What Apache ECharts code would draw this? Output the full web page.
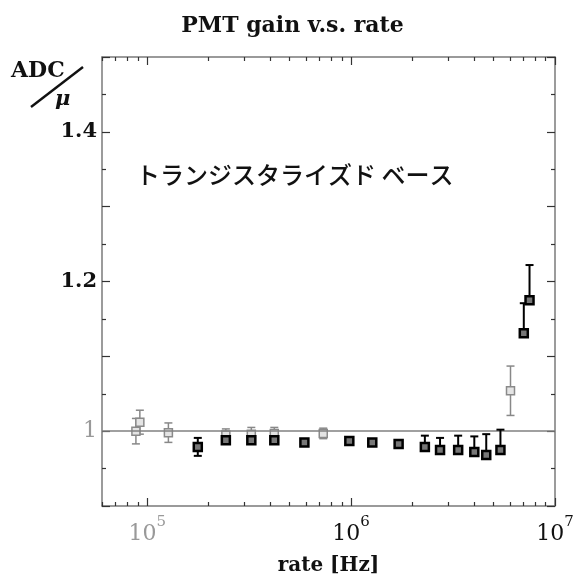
<!DOCTYPE html>
<html>
<head>
<meta charset="utf-8">
<script src="https://cdn.jsdelivr.net/npm/echarts@6/dist/echarts.min.js"></script>
<style>
html, body { margin: 0; background: #fff; }
#chart { width: 585px; height: 582px; }
</style>
</head>
<body>
<div id="chart"></div>
<script>
// open (gray) points
var grayRate = [8.8e4, 9.2e4, 1.27e5, 2.43e5, 3.24e5, 4.2e5, 7.3e5, 6.05e6]
var grayGain = [1.000, 1.012, 0.998, 0.995, 0.996, 0.997, 0.997, 1.054]
var grayErr = [0.017, 0.016, 0.013, 0.008, 0.009, 0.008, 0.007, 0.033]

// filled (black) points
var blackRate = [1.77e5, 2.43e5, 3.24e5, 4.2e5, 5.9e5, 9.8e5, 1.27e6, 1.71e6, 2.3e6, 2.73e6, 3.35e6, 4.02e6, 4.6e6, 5.4e6, 7.03e6, 7.5e6]
var blackGain = [0.979, 0.988, 0.988, 0.988, 0.985, 0.987, 0.985, 0.983, 0.979, 0.975, 0.975, 0.972, 0.968, 0.975, 1.131, 1.175]
var blackErrUp = [0.012, 0.005, 0.004, 0.004, 0.002, 0.002, 0.002, 0.002, 0.015, 0.016, 0.019, 0.021, 0.028, 0.027, 0.040, 0.047]
var blackErrDown = [0.012, 0.005, 0.004, 0.004, 0.002, 0, 0, 0.002, 0, 0, 0, 0, 0, 0, 0, 0]

var xMajor = [1e5, 1e6, 1e7]
var xMinor = [6e4, 7e4, 8e4, 9e4, 2e5, 3e5, 4e5, 5e5, 6e5, 7e5, 8e5, 9e5, 2e6, 3e6, 4e6, 5e6, 6e6, 7e6, 8e6, 9e6]
var yLabels = [1, 1.2, 1.4]

var serif = 'DejaVu Serif'
var frame = '#7a7a7a'

function points (rate, gain) {
  return rate.map(function (r, i) { return [r, gain[i]] })
}

function bars (rate, gain, up, down) {
  return rate.map(function (r, i) {
    return [r, gain[i] - down[i], gain[i] + up[i], gain[i]]
  })
}

function errorBar (color, width) {
  return function (params, api) {
    var x = api.value(0)
    var lo = api.coord([x, api.value(1)])
    var hi = api.coord([x, api.value(2)])
    var style = { stroke: color, lineWidth: width }
    var kids = [{ type: 'line', shape: { x1: lo[0], y1: lo[1], x2: hi[0], y2: hi[1] }, style: style }]
    if (api.value(2) > api.value(3)) {
      kids.push({ type: 'line', shape: { x1: hi[0] - 4, y1: hi[1], x2: hi[0] + 4, y2: hi[1] }, style: style })
    }
    if (api.value(1) < api.value(3)) {
      kids.push({ type: 'line', shape: { x1: lo[0] - 4, y1: lo[1], x2: lo[0] + 4, y2: lo[1] }, style: style })
    }
    return { type: 'group', children: kids }
  }
}

function xAxis (pos, major) {
  return {
    type: 'log',
    logBase: 10,
    min: 6e4,
    max: 1e7,
    position: pos,
    axisLine: { show: major, onZero: false, lineStyle: { color: frame, width: 1.5 } },
    axisTick: {
      show: true,
      inside: true,
      length: major ? 8 : 4,
      customValues: major ? xMajor : xMinor,
      lineStyle: { color: '#333', width: 1.2 }
    },
    axisLabel: {
      show: major && pos === 'bottom',
      customValues: xMajor,
      margin: 9,
      formatter: function (v) {
        var e = Math.round(Math.log10(v))
        var k = e === 5 ? 'g' : 'b'
        return '{' + k + '|10}{' + k + 's|' + e + '}'
      },
      rich: {
        b: { fontFamily: serif, fontSize: 22, color: '#111', lineHeight: 30, verticalAlign: 'bottom' },
        bs: { fontFamily: serif, fontSize: 15, color: '#111', lineHeight: 30, verticalAlign: 'top' },
        g: { fontFamily: serif, fontSize: 22, color: '#999', lineHeight: 30, verticalAlign: 'bottom' },
        gs: { fontFamily: serif, fontSize: 15, color: '#999', lineHeight: 30, verticalAlign: 'top' }
      }
    },
    splitLine: { show: false },
    name: pos === 'bottom' && major ? 'rate [Hz]' : '',
    nameLocation: 'middle',
    nameGap: 50,
    nameTextStyle: { fontFamily: serif, fontSize: 20, fontWeight: 'bold', color: '#111' }
  }
}

function yAxis (pos) {
  return {
    type: 'value',
    min: 0.9,
    max: 1.5,
    interval: 0.1,
    position: pos,
    axisLine: { show: true, onZero: false, lineStyle: { color: frame, width: 1.5 } },
    axisTick: { show: true, inside: true, length: 8, lineStyle: { color: '#333', width: 1.2 } },
    minorTick: { show: true, splitNumber: 2, length: 4, lineStyle: { color: '#333', width: 1.2 } },
    axisLabel: {
      show: pos === 'left',
      margin: 5,
      formatter: function (v) {
        for (var i = 0; i < yLabels.length; i++) {
          if (Math.abs(v - yLabels[i]) < 1e-6) {
            return yLabels[i] === 1 ? '{g|1}' : '{b|' + yLabels[i].toFixed(1) + '}'
          }
        }
        return ''
      },
      rich: {
        b: { fontFamily: serif, fontSize: 21, fontWeight: 'bold', color: '#111' },
        g: { fontFamily: serif, fontSize: 22, color: '#999' }
      }
    },
    splitLine: { show: false }
  }
}

var option = {
  backgroundColor: '#fff',
  animation: false,
  title: {
    text: 'PMT gain v.s. rate',
    left: 'center',
    top: 10,
    textStyle: { fontFamily: serif, fontSize: 22, fontWeight: 'bold', color: '#111' }
  },
  grid: { left: 102, right: 30, top: 57, bottom: 76 },
  xAxis: [xAxis('bottom', true), xAxis('bottom', false), xAxis('top', true), xAxis('top', false)],
  yAxis: [yAxis('left'), yAxis('right')],
  graphic: [
    { type: 'text', left: 11, top: 60, style: { text: 'ADC', font: 'bold 22px "DejaVu Serif"', fill: '#111' } },
    { type: 'text', left: 55, top: 89, style: { text: 'μ', font: 'italic bold 21px "DejaVu Serif"', fill: '#111' } },
    { type: 'line', shape: { x1: 31, y1: 107, x2: 83, y2: 67 }, style: { stroke: '#111', lineWidth: 2.4 } },
    { type: 'text', left: 136, top: 163, style: { text: 'トランジスタライズド ベース', font: '500 24px "Noto Sans CJK JP"', fill: '#111' } }
  ],
  series: [
    {
      type: 'custom',
      renderItem: errorBar('#888', 1.5),
      data: bars(grayRate, grayGain, grayErr, grayErr),
      z: 3,
      markLine: {
        silent: true,
        symbol: 'none',
        label: { show: false },
        lineStyle: { color: '#808080', width: 1.6, type: 'solid' },
        data: [{ yAxis: 1 }]
      }
    },
    {
      type: 'scatter',
      symbol: 'rect',
      symbolSize: 8,
      itemStyle: { color: '#e4e4e4', borderColor: '#8a8a8a', borderWidth: 1.5, opacity: 1 },
      data: points(grayRate, grayGain),
      z: 4
    },
    {
      type: 'custom',
      renderItem: errorBar('#000', 2),
      data: bars(blackRate, blackGain, blackErrUp, blackErrDown),
      z: 5
    },
    {
      type: 'scatter',
      symbol: 'rect',
      symbolSize: 8,
      itemStyle: { color: '#777', borderColor: '#000', borderWidth: 2.5, opacity: 1 },
      data: points(blackRate, blackGain),
      z: 6
    }
  ]
}

var chart = echarts.init(document.getElementById('chart'))
chart.setOption(option)
</script>
</body>
</html>
